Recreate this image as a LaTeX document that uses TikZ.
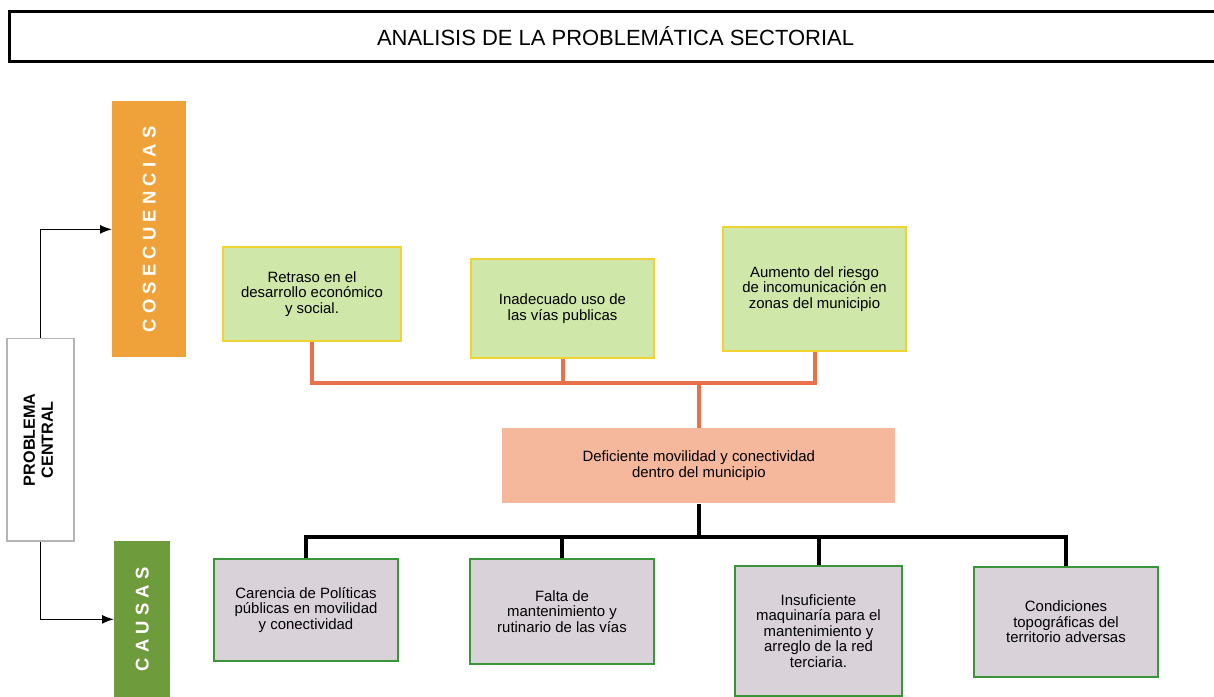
\documentclass[tikz,border=0pt]{standalone}
\usepackage{fontspec}
\setmainfont{Liberation Sans}
\usetikzlibrary{arrows.meta,positioning}
\definecolor{amber}  {HTML}{F0A23A}
\definecolor{moss}   {HTML}{6E9B3C}
\definecolor{leaf}   {HTML}{CFE7A8}
\definecolor{straw}  {HTML}{F0D230}
\definecolor{salmon} {HTML}{F6B89C}
\definecolor{coral}  {HTML}{E8704A}
\definecolor{mauve}  {HTML}{D9D3D9}
\definecolor{forest} {HTML}{3A943A}
\definecolor{frame}  {HTML}{B4B4B4}
\newcommand{\boxtext} {\fontsize{8.5}{8.9}\selectfont}
\newcommand{\headtext}{\fontsize{12.5}{15}\selectfont}
\newcommand{\sidetext}{\fontsize{9.2}{10.2}\selectfont\bfseries}
\newcommand{\spaced}  {\fontsize{10.5}{12}\selectfont\bfseries\addfontfeatures{LetterSpace=28}}
\tikzset{
  cons/.style={draw=straw, line width=0.4mm, fill=leaf, align=center, anchor=north west},
  cause/.style={draw=forest, line width=0.4mm, fill=mauve, align=center, anchor=north west},
  sidebar/.style={text=white, font=\spaced, anchor=north west, inner sep=0pt},
  coralbus/.style={draw=coral, line width=0.8mm},
  blackbus/.style={draw=black, line width=0.8mm},
  feed/.style={-{Latex[length=2.4mm,width=1.8mm]}, line width=0.3mm}
}

\begin{document}
\begin{tikzpicture}[x=0.2mm, y=-0.2mm, font=\boxtext]
  \useasboundingbox (0,0) rectangle (1214,697);

  % heading
  \node[draw, line width=0.6mm, fill=white, anchor=north west,
        minimum width=242.4mm, minimum height=10mm, font=\headtext]
        (title) at (8,10) {ANALISIS DE LA PROBLEM\'ATICA SECTORIAL};

  % side labels
  \node[sidebar, fill=amber, minimum width=14.8mm, minimum height=51.2mm]
        (cos) at (112,101) {\rotatebox{90}{COSECUENCIAS}};
  \node[sidebar, fill=moss, minimum width=11.2mm, minimum height=31.2mm]
        (cau) at (114,541) {\rotatebox{90}{CAUSAS}};
  \node[draw=frame, line width=0.3mm, fill=white, anchor=north west,
        minimum width=13.4mm, minimum height=40.4mm, inner sep=0pt, font=\sidetext]
        (pc) at (6,338) {\rotatebox{90}{\begin{tabular}{@{}c@{}}PROBLEMA\\CENTRAL\end{tabular}}};
  \draw[feed] (pc.north) |- (cos.west);
  \draw[feed] (pc.south) |- (cau.west);

  % consequences
  \foreach \n/\x/\y/\w/\h/\txt in {
     1/222/246/35.6/18.8/{Retraso en el\\desarrollo económico\\y social.},
     2/470/258/36.6/19.8/{Inadecuado uso de\\las vías publicas},
     3/722/226/36.6/24.8/{Aumento del riesgo\\de incomunicación en\\zonas del municipio}} {
    \node[cons, minimum width=\w mm, minimum height=\h mm] (c\n) at (\x,\y) {\txt};
  }

  % central problem
  \node[fill=salmon, align=center, anchor=north west,
        minimum width=78.6mm, minimum height=15mm]
        (core) at (502,428) {Deficiente movilidad y conectividad\\dentro del municipio};

  % causes
  \foreach \n/\x/\y/\w/\h/\txt in {
     1/213/558/36.8/20.4/{Carencia de Políticas\\públicas en movilidad\\y conectividad},
     2/469/558/36.8/21/{Falta de\\mantenimiento y\\rutinario de las vías},
     3/734/565/33.4/26/{Insuficiente\\maquinaría para el\\mantenimiento y\\arreglo de la red\\terciaria.},
     4/973/566/36.8/22/{Condiciones\\topográficas del\\territorio adversas}} {
    \node[cause, minimum width=\w mm, minimum height=\h mm] (k\n) at (\x,\y) {\txt};
  }

  % connectors
  \coordinate (upbus) at (core.north |- 0,383);
  \coordinate (lowbus) at (core.south |- 0,537);
  \draw[coralbus] (c1.south) |- (upbus) -| (c3.south);
  \draw[coralbus] (c2.south) -- (c2.south |- upbus);
  \draw[coralbus] (core.north) -- (upbus);
  \draw[blackbus] (k1.north) |- (lowbus) -| (k4.north);
  \draw[blackbus] (k2.north) -- (k2.north |- lowbus);
  \draw[blackbus] (k3.north) -- (k3.north |- lowbus);
  \draw[blackbus] (core.south) -- (lowbus);
\end{tikzpicture}
\end{document}
